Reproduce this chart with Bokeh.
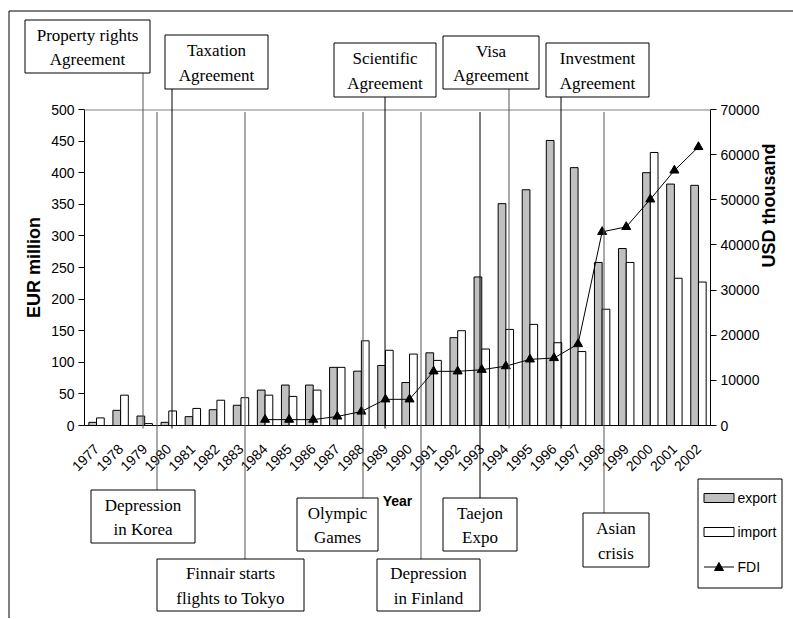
import math
from bokeh.plotting import figure
from bokeh.models import (ColumnDataSource, Range1d, LinearAxis, SingleIntervalTicker,
                          BasicTickFormatter)
from bokeh.transform import dodge
from bokeh.core.properties import value
from bokeh.embed import file_html
from bokeh.resources import INLINE

# ---------------- data ----------------
years = ["1977", "1978", "1979", "1980", "1981", "1982", "1883", "1984", "1985", "1986",
         "1987", "1988", "1989", "1990", "1991", "1992", "1993", "1994", "1995", "1996",
         "1997", "1998", "1999", "2000", "2001", "2002"]
export = [5, 24, 15, 5, 14, 25, 32, 56, 64, 64, 92, 86, 95, 68, 115, 139, 235, 351, 373,
          451, 408, 258, 280, 400, 382, 380]
imports = [12, 48, 3, 23, 27, 40, 44, 48, 46, 56, 92, 134, 119, 113, 103, 150, 121, 152,
           160, 131, 117, 184, 258, 432, 233, 227]
fdi_years = ["1984", "1985", "1986", "1987", "1988", "1989", "1990", "1991", "1992", "1993",
             "1994", "1995", "1996", "1997", "1998", "1999", "2000", "2001", "2002"]
fdi = [1300, 1300, 1300, 2000, 3100, 5800, 5800, 12000, 12000, 12350, 13150, 14650,
       14950, 18050, 42900, 44000, 50100, 56500, 61700]

series_names = ["export", "import", "FDI"]

event_texts = ["Property rights\nAgreement", "Taxation\nAgreement", "Scientific\nAgreement",
               "Visa\nAgreement", "Investment\nAgreement", "Depression\nin Korea",
               "Finnair starts\nflights to Tokyo", "Olympic\nGames", "Depression\nin Finland",
               "Taejon\nExpo", "Asian\ncrisis"]

# ---------------- layout (page pixels) ----------------
W, H = 793, 618
PX0, PX1, PY1, PY0 = 84, 710, 109, 425      # plot frame: left, right, top, bottom
FW = (PX1 - PX0) / len(years)

# box: left, top, right, bottom ; connector: x, y0, y1 ; colour
event_layout = [
    (24.5, 19.5, 149.5, 72.5, 142.5, 72.5, 428, "#555555"),
    (164.5, 34.5, 267.5, 88.5, 171.5, 88.5, 428, "black"),
    (333.5, 42.5, 435.5, 96.5, 384.5, 96.5, 428, "black"),
    (442.5, 35.5, 538.5, 88.5, 508.5, 88.5, 428, "#555555"),
    (545.5, 42.5, 648.5, 96.5, 560.5, 96.5, 428, "black"),
    (90.5, 489.5, 194.5, 542.5, 156.5, 111.5, 489.5, "#555555"),
    (156.5, 558.5, 303.5, 610.5, 244.5, 111.5, 558.5, "#555555"),
    (296.5, 497.5, 377.5, 550.5, 362.5, 111.5, 497.5, "#555555"),
    (376.5, 558.5, 479.5, 610.5, 420.5, 111.5, 558.5, "#555555"),
    (442.5, 497.5, 516.5, 550.5, 479.5, 111.5, 497.5, "black"),
    (582.5, 512.5, 648.5, 566.5, 603.5, 111.5, 512.5, "#555555"),
]
# legend box and row centres
LEG_BOX = (697.5, 478.5, 781.5, 587.5)
LEG_ROWS = [497.5, 531.5, 566.5]
LEG_SW = (703.5, 733.5)
LEG_TX = 737


def xs(px):
    """page pixel -> synthetic categorical coordinate"""
    return (px - PX0) / FW


src = ColumnDataSource(dict(year=years, export=export, imp=imports))
fsrc = ColumnDataSource(dict(year=fdi_years, fdi=fdi))

p = figure(x_range=years, y_range=Range1d(0, 500), width=W, height=H,
           output_backend="svg", toolbar_location=None,
           min_border_left=PX0, min_border_right=W - PX1, min_border_top=PY1,
           min_border_bottom=H - PY0)
p.extra_y_ranges = {"fdi": Range1d(0, 70000), "px": Range1d(PY0, PY1)}
p.x_range.range_padding = 0
p.xgrid.visible = False
p.ygrid.visible = False
p.outline_line_color = None
p.background_fill_color = "white"
p.border_fill_color = "white"

EXP_STYLE = dict(fill_color="#C0C0C0", line_color="black", line_width=1)
IMP_STYLE = dict(fill_color="white", line_color="black", line_width=1)

p.vbar(x=dodge("year", -0.16, range=p.x_range), top="export", width=0.32, source=src, **EXP_STYLE)
p.vbar(x=dodge("year", 0.16, range=p.x_range), top="imp", width=0.32, source=src, **IMP_STYLE)
p.line("year", "fdi", source=fsrc, y_range_name="fdi", line_color="black", line_width=1)
p.scatter("year", "fdi", source=fsrc, y_range_name="fdi", marker="triangle", size=9,
          fill_color="black", line_color="black")

FONT = "Liberation Sans"

ya = p.yaxis[0]
ya.ticker = SingleIntervalTicker(interval=50, num_minor_ticks=0)
ya.axis_label = "EUR million"

ra = LinearAxis(y_range_name="fdi", ticker=SingleIntervalTicker(interval=10000, num_minor_ticks=0),
                formatter=BasicTickFormatter(use_scientific=False), axis_label="USD thousand")
p.add_layout(ra, "right")

for ax in [ya, ra]:
    ax.major_tick_in = 0
    ax.major_tick_out = 6
    ax.minor_tick_line_color = None
    ax.major_label_standoff = 4
    ax.major_label_text_font = FONT
    ax.major_label_text_font_size = "14px"
    ax.major_label_text_color = "black"
    ax.axis_line_color = "black"
    ax.major_tick_line_color = "black"
    ax.axis_label_text_font = FONT
    ax.axis_label_text_font_style = "bold"
    ax.axis_label_text_font_size = "18px"
    ax.axis_label_text_color = "black"
ya.axis_label_standoff = 4
ra.axis_label_standoff = 7
if "axis_label_orientation" in LinearAxis.properties():
    ra.axis_label_orientation = math.pi / 2
    ra.axis_label_text_align = "center"

xa = p.xaxis[0]
xa.axis_label = "Year"
xa.axis_label_text_font = FONT
xa.axis_label_text_font_style = "bold"
xa.axis_label_text_font_size = "14px"
xa.axis_label_text_color = "black"
xa.axis_label_standoff = 14
xa.major_label_orientation = math.pi / 4
xa.major_label_text_font = FONT
xa.major_label_text_font_size = "14px"
xa.major_label_text_color = "black"
xa.major_tick_line_color = None
xa.major_tick_out = 0
xa.major_tick_in = 0
xa.minor_tick_line_color = None
xa.major_label_standoff = 21
xa.axis_line_color = "black"

# ---------------- frame lines, event boxes and connectors (page-pixel layer) ----------------
seg = dict(x0=[], y0=[], x1=[], y1=[], c=[])


def add_seg(ax0, ay0, ax1, ay1, c):
    seg["x0"].append(xs(ax0)); seg["y0"].append(ay0)
    seg["x1"].append(xs(ax1)); seg["y1"].append(ay1)
    seg["c"].append(c)


add_seg(PX0, 109.5, PX1, 109.5, "#808080")         # top edge of plot area
add_seg(8.5, 10.5, 800, 10.5, "black")              # outer chart border (top)
add_seg(8.5, 10.5, 8.5, 700, "black")               # outer chart border (left)
for (l, t, r, b, lx, y0, y1, col) in event_layout:
    add_seg(lx, y0, lx, y1, col)

p.segment("x0", "y0", "x1", "y1", source=ColumnDataSource(seg), y_range_name="px",
          line_color="c", line_width=1, level="overlay")

boxes = ColumnDataSource(dict(
    left=[xs(e[0]) for e in event_layout], right=[xs(e[2]) for e in event_layout],
    top=[e[1] for e in event_layout], bottom=[e[3] for e in event_layout],
    cx=[xs((e[0] + e[2]) / 2) for e in event_layout],
    cy=[(e[1] + e[3]) / 2 + 1 for e in event_layout],
    text=event_texts))
p.quad(left="left", right="right", top="top", bottom="bottom", source=boxes, y_range_name="px",
       fill_color="white", line_color="black", line_width=1, level="overlay")
p.text(x="cx", y="cy", text="text", source=boxes, y_range_name="px",
       text_align="center", text_baseline="middle", text_font=value("Liberation Serif"),
       text_font_size=value("17px"), text_line_height=1.28, text_color="black",
       level="overlay")

# ---------------- legend (drawn in the page-pixel layer) ----------------
l, t, r, b = LEG_BOX
p.quad(left=[xs(l)], right=[xs(r)], top=[t], bottom=[b], y_range_name="px",
       fill_color="white", line_color="black", line_width=1, level="overlay")
p.quad(left=[xs(LEG_SW[0])], right=[xs(LEG_SW[1])], top=[LEG_ROWS[0] - 4.5],
       bottom=[LEG_ROWS[0] + 4.5], y_range_name="px", level="overlay", **EXP_STYLE)
p.quad(left=[xs(LEG_SW[0])], right=[xs(LEG_SW[1])], top=[LEG_ROWS[1] - 4.5],
       bottom=[LEG_ROWS[1] + 4.5], y_range_name="px", level="overlay", **IMP_STYLE)
p.segment(x0=[xs(LEG_SW[0])], y0=[LEG_ROWS[2]], x1=[xs(LEG_SW[1])], y1=[LEG_ROWS[2]],
          y_range_name="px", line_color="black", line_width=1, level="overlay")
tcx = (LEG_SW[0] + LEG_SW[1]) / 2
tcy = LEG_ROWS[2]
p.patch(x=[xs(tcx - 4.5), xs(tcx), xs(tcx + 4.5)], y=[tcy + 3.5, tcy - 4.5, tcy + 3.5],
        y_range_name="px", fill_color="black", line_color="black", line_width=1,
        level="overlay")
p.text(x=[xs(LEG_TX)] * 3, y=LEG_ROWS, text=series_names, y_range_name="px",
       text_align="left", text_baseline="middle", text_font=value(FONT),
       text_font_size=value("14px"), text_color="black", level="overlay")

open("out.html", "w").write(file_html(p, INLINE))
